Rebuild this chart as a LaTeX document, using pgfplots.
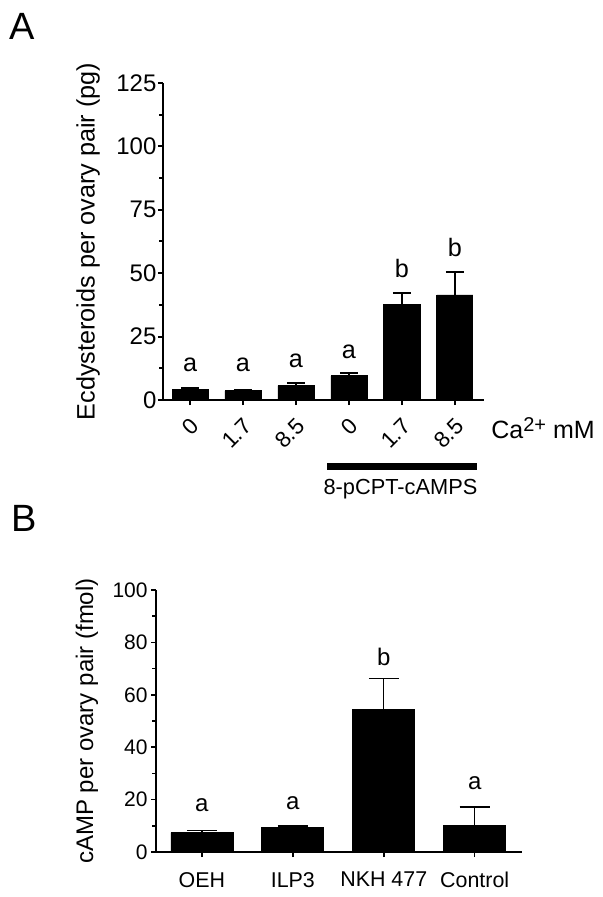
\documentclass[border=0pt]{standalone}
\usepackage{pgfplots}
\pgfplotsset{compat=1.18}
\usepackage{fontspec}
\setmainfont{Liberation Sans}

\begin{document}
\begin{tikzpicture}
\path[use as bounding box] (0,0) rectangle (301.5pt,448.5pt);

% Panel letters
\node[anchor=base west, inner sep=0pt, font=\fontsize{19}{19}\selectfont] at (4.5pt,428.5pt) {A};
\node[anchor=base west, inner sep=0pt, font=\fontsize{19}{19}\selectfont] at (5.5pt,182.5pt) {B};

% ---------------- Panel A ----------------
\begin{axis}[
  at={(81.5pt,248.5pt)}, anchor=south west,
  scale only axis, width=160.5pt, height=158.5pt,
  xmin=-0.51, xmax=5.55, ymin=0, ymax=125,
  axis x line*=bottom, axis y line*=left,
  xtick={0,1,2,3,4,5}, xticklabels={0,1.7,8.5,0,1.7,8.5},
  ytick={0,25,50,75,100,125}, minor ytick={12.5,37.5,62.5,87.5,112.5},
  tick align=outside, major tick length=2.6pt, minor tick length=1.8pt,
  every tick/.style={line width=1pt, black},
  axis line style={line width=1pt},
  x tick label style={xshift=2.5pt, yshift=-8.5pt, rotate=45, anchor=east, inner sep=0pt, font=\fontsize{11.2}{11}\selectfont},
  y tick label style={inner xsep=0.5pt, font=\fontsize{12}{12}\selectfont},
  /pgf/number format/assume math mode=true,
  ylabel={Ecdysteroids per ovary pair (pg)},
  ylabel style={at={(axis description cs:-0.2336,0.5)}, anchor=center, font=\fontsize{12.6}{13}\selectfont},
  clip=false,
]
\addplot[ybar, bar width=18pt, fill=black, draw=black,
  error bars/.cd, y dir=plus, y explicit,
  error bar style={line width=1pt, black},
  error mark options={rotate=90, mark size=4.5pt, line width=1pt, black}]
  coordinates {
  (0,4.2) +- (0,0.4)
  (1,3.6) +- (0,0.5)
  (2,5.7) +- (0,1.1)
  (3,9.5) +- (0,1.1)
  (4,37.5) +- (0,4.7)
  (5,41.4) +- (0,9.2)
  };
\begin{scope}[every node/.style={inner sep=0pt, font=\fontsize{12.6}{13}\selectfont}]
\node at (axis cs:0,13.8) {a};
\node at (axis cs:1,13.8) {a};
\node at (axis cs:2,15.5) {a};
\node at (axis cs:3,19.0) {a};
\node at (axis cs:4,51.7) {b};
\node at (axis cs:5,60.0) {b};
\end{scope}
\end{axis}

\node[anchor=base west, inner sep=0pt, font=\fontsize{12.5}{13}\selectfont] at (245.5pt,229pt)
  {Ca\raisebox{0.55ex}{\fontsize{10}{10}\selectfont 2+} mM};
\draw[line width=3.5pt] (163.5pt,215pt) -- (238.5pt,215pt);
\node[anchor=base, inner sep=0pt, font=\fontsize{10.9}{11}\selectfont] at (200.25pt,201.25pt) {8-pCPT-cAMPS};

% ---------------- Panel B ----------------
\begin{axis}[
  at={(78pt,22.5pt)}, anchor=south west,
  scale only axis, width=183pt, height=131pt,
  xmin=-0.505, xmax=3.52, ymin=0, ymax=100,
  axis x line*=bottom, axis y line*=left,
  xtick={0,1,2,3}, xticklabels={OEH,ILP3,NKH 477,Control},
  ytick={0,20,40,60,80,100}, minor ytick={10,30,50,70,90},
  tick align=outside, major tick length=2.5pt, minor tick length=2pt,
  every tick/.style={line width=0.75pt, black},
  axis line style={line width=0.75pt},
  x tick label style={yshift=-4pt, font=\fontsize{10.7}{11}\selectfont},
  y tick label style={inner xsep=1.5pt, font=\fontsize{10.5}{11}\selectfont},
  /pgf/number format/assume math mode=true,
  ylabel={cAMP per ovary pair (fmol)},
  ylabel style={at={(axis description cs:-0.1885,0.5)}, anchor=center, font=\fontsize{12}{13}\selectfont},
  clip=false,
]
\addplot[ybar, bar width=31pt, fill=black, draw=black,
  error bars/.cd, y dir=plus, y explicit,
  error bar style={line width=0.65pt, black},
  error mark options={rotate=90, mark size=7.5pt, line width=0.65pt, black}]
  coordinates {
  (0,7.4) +- (0,0.7)
  (1,9.2) +- (0,0.7)
  (2,54.5) +- (0,11.8)
  (3,10.2) +- (0,7.0)
  };
\begin{scope}[every node/.style={inner sep=0pt, font=\fontsize{12}{13}\selectfont}]
\node at (axis cs:0,17.7) {a};
\node at (axis cs:1,18.5) {a};
\node at (axis cs:2,74.5) {b};
\node at (axis cs:3,26.3) {a};
\end{scope}
\end{axis}
\end{tikzpicture}
\end{document}
